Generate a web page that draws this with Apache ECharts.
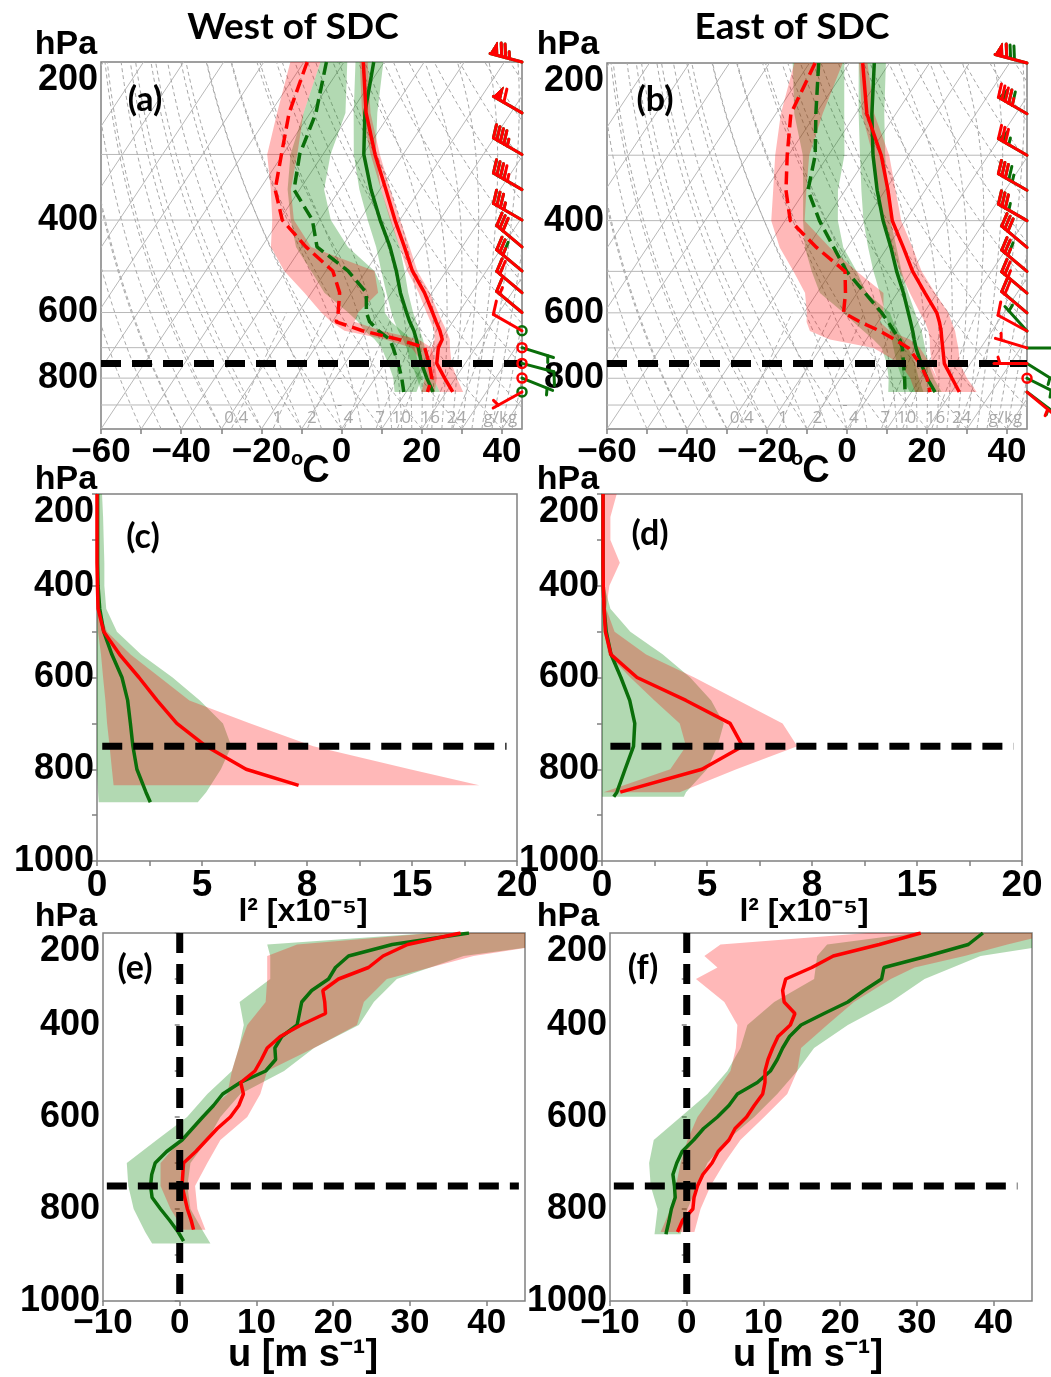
<!DOCTYPE html>
<html>
<head>
<meta charset="utf-8">
<title>West / East of SDC</title>
<script src="https://cdn.jsdelivr.net/npm/echarts@6.0.0/dist/echarts.min.js"></script>
<style>
  html, body { margin: 0; padding: 0; background: #fff; }
  #main { width: 1051px; height: 1377px; }
</style>
</head>
<body>
<div id="main"></div>
<script>
// ---------------- data ----------------
// skew-T levels (hPa); temperature / dew point in degC
var pSkew = [200, 250, 300, 350, 400, 450, 500, 550, 600, 625, 650, 675, 700, 750, 800, 850];

// (a) west of SDC
var tRedW      = [-55.2, -46.1, -37.0, -28.5, -21.2, -14.4, -8.45, -1.85, 3.45, 5.9, 8.3, 10.3, 10.7, 12.9, 17.3, 21.6];
var tRedWLo    = [-56.1, -47.1, -38.1, -29.7, -22.4, -15.6, -9.7, -3.3, 1.95, 4.5, 6.9, 8.4, 9.0, 10.8, 14.5, 18.4];
var tRedWHi    = [-54.1, -45.0, -35.8, -27.4, -19.9, -13.1, -7.2, -0.5, 4.85, 7.4, 9.95, 12.2, 13.6, 16.6, 20.35, 24.2];
var tdRedW     = [-69.2, -65.3, -60.35, -56.1, -49.3, -38.95, -28.3, -23.0, -20.1, -19.05, -11.0, -0.6, 7.3, 11.0, 14.1, 15.3];
var tdRedWLo   = [-73.4, -68.3, -63.9, -57.2, -51.8, -47.7, -40.4, -31.8, -24.3, -20.3, -15.5, -4.1, 4.0, 9.5, 12.4, 13.8];
var tdRedWHi   = [-65.9, -61.7, -56.4, -52.2, -46.4, -37.7, -17.9, -13.4, -15.1, -14.5, -6.3, 4.3, 9.0, 12.4, 15.35, 17.1];
var tGreenW    = [-52.6, -46.4, -39.8, -32.2, -24.9, -18.0, -12.45, -7.85, -3.05, -0.7, 1.8, 3.85, 5.7, 9.1, 12.85, 16.7];
var tGreenWLo  = [-57.15, -49.2, -42.3, -35.1, -28.0, -21.45, -16.2, -11.35, -6.8, -4.5, -2.1, 0.5, 2.75, 6.6, 10.35, 13.8];
var tGreenWHi  = [-50.2, -43.3, -36.85, -29.7, -22.2, -15.6, -10.4, -5.9, -1.4, 0.95, 3.3, 5.5, 7.3, 10.8, 14.5, 18.4];
var tdGreenW   = [-64.4, -58.6, -55.8, -51.4, -41.8, -36.2, -24.5, -16.35, -13.05, -10.7, -7.0, -2.8, -0.6, 3.3, 6.6, 9.4];
var tdGreenWLo = [-65.9, -61.7, -58.1, -53.0, -47.2, -41.45, -33.7, -26.8, -17.6, -13.6, -10.5, -6.6, -3.5, 0.8, 4.5, 7.1];
var tdGreenWHi = [-59.2, -51.25, -48.1, -43.9, -37.2, -28.5, -17.9, -11.8, -8.5, -5.3, -1.3, 2.6, 4.8, 8.3, 11.6, 12.55];

// (b) east of SDC
var tRedE      = [-56.7, -47.25, -36.8, -29.3, -23.2, -16.0, -9.7, -3.0, 3.2, 5.4, 7.3, 8.9, 10.5, 13.5, 17.85, 21.95];
var tRedELo    = [-57.6, -48.5, -38.9, -31.5, -25.5, -18.95, -12.9, -6.8, -1.0, 1.8, 4.1, 5.9, 7.3, 10.35, 14.1, 17.95];
var tRedEHi    = [-55.5, -45.4, -34.8, -27.4, -20.95, -13.7, -7.45, -0.5, 6.1, 8.45, 10.8, 12.6, 14.4, 17.4, 21.6, 26.3];
var tdRedE     = [-68.6, -66.25, -60.3, -54.8, -48.7, -37.7, -26.6, -22.9, -20.1, -14.3, -8.0, -2.8, 1.9, 7.4, 11.6, 14.6];
var tdRedELo   = [-73.8, -68.75, -63.3, -58.0, -53.45, -46.9, -39.5, -33.0, -29.3, -27.8, -25.5, -19.1, -6.8, 2.4, 7.4, 10.9];
var tdRedEHi   = [-61.7, -58.3, -54.8, -49.7, -45.1, -34.4, -23.7, -13.4, -10.1, -9.5, -5.5, 0.9, 4.8, 9.9, 14.1, 18.0];
var tGreenE    = [-53.8, -46.0, -38.85, -32.0, -25.5, -19.1, -13.7, -8.4, -3.9, -1.8, 0.2, 2.0, 3.8, 7.7, 11.6, 15.9];
var tGreenELo  = [-57.7, -49.3, -42.1, -35.95, -30.4, -24.8, -19.5, -14.3, -9.7, -7.6, -5.5, -3.65, -1.8, 1.6, 5.35, 9.6];
var tGreenEHi  = [-50.9, -42.9, -35.8, -29.45, -23.6, -17.7, -12.45, -7.2, -2.2, 0.1, 2.45, 4.3, 6.1, 9.5, 13.3, 17.55];
var tdGreenE   = [-67.7, -60.0, -53.3, -49.3, -41.4, -33.4, -26.2, -18.0, -10.55, -7.4, -4.5, -1.6, 0.4, 3.3, 6.0, 8.4];
var tdGreenELo = [-74.2, -65.4, -56.4, -50.5, -45.5, -40.6, -34.95, -29.3, -20.1, -16.1, -12.1, -8.2, -4.75, -0.9, 2.0, 4.2];
var tdGreenEHi = [-61.3, -52.9, -46.0, -41.8, -36.8, -31.0, -23.7, -17.6, -8.5, -6.1, -3.4, -0.7, 1.9, 6.2, 9.5, 13.0];

// (c),(d) l^2 [x1e-5]
var pLsqRedW   = [200, 250, 300, 350, 400, 450, 500, 550, 600, 650, 700, 750, 800, 835];
var lsqRedW    = [0, 0, 0, 0, 0.02, 0.05, 0.32, 1.08, 2.0, 2.86, 3.8, 5.2, 7.1, 9.6];
var lsqRedWLo  = [0, 0, 0, 0, 0, 0, 0.05, 0.19, 0.29, 0.4, 0.48, 0.6, 0.71, 0.79];
var lsqRedWHi  = [0.05, 0.05, 0.05, 0.05, 0.05, 0.08, 0.48, 1.6, 3.0, 4.4, 7.3, 10.3, 14.9, 18.2];
var pLsqGreenW = [200, 250, 300, 350, 400, 450, 500, 550, 600, 650, 700, 750, 800, 850, 872];
var lsqGreenW  = [0.03, 0.03, 0.03, 0.03, 0.05, 0.13, 0.32, 0.71, 1.19, 1.46, 1.59, 1.71, 1.9, 2.33, 2.54];
var lsqGreenWLo = [0, 0, 0, 0, 0, 0, 0, 0, 0, 0, 0, 0, 0, 0.05, 0.08];
var lsqGreenWHi = [0.24, 0.29, 0.32, 0.35, 0.35, 0.44, 0.95, 2.1, 3.6, 4.9, 6.0, 6.4, 5.9, 5.2, 4.8];

var pLsqRedE   = [200, 250, 300, 350, 400, 450, 500, 550, 600, 650, 700, 750, 800, 850];
var lsqRedE    = [0.05, 0.05, 0.05, 0.05, 0.06, 0.1, 0.16, 0.43, 1.67, 4.0, 6.1, 6.7, 4.76, 0.87];
var lsqRedELo  = [0, 0, 0, 0, 0, 0, 0.1, 0.3, 1.35, 2.5, 3.7, 4.0, 3.25, 0.08];
var lsqRedEHi  = [0.7, 0.4, 0.4, 0.85, 0.35, 0.2, 0.6, 2.1, 4.4, 6.5, 8.6, 9.3, 6.4, 3.7];
var pLsqGreenE = [200, 250, 300, 350, 400, 450, 500, 550, 600, 650, 700, 750, 800, 850, 860];
var lsqGreenE  = [0.05, 0.05, 0.05, 0.05, 0.06, 0.1, 0.2, 0.43, 0.9, 1.32, 1.56, 1.5, 1.1, 0.71, 0.56];
var lsqGreenELo = [0, 0, 0, 0, 0, 0, 0, 0, 0, 0, 0, 0, 0, 0, 0];
var lsqGreenEHi = [0.05, 0.05, 0.05, 0.05, 0.1, 0.4, 1.35, 2.9, 4.2, 5.2, 5.8, 5.5, 5.0, 4.0, 3.9];

// (e),(f) zonal wind u [m/s]
var pURedW   = [200, 225, 250, 275, 300, 325, 350, 375, 400, 425, 450, 475, 500, 525, 550, 575, 600, 625, 650, 675, 700, 725, 750, 775, 800, 825, 845];
var uRedW    = [36.6, 29.7, 26.5, 24.6, 20.7, 18.65, 18.9, 19.0, 15.8, 13.1, 11.4, 10.65, 9.8, 7.95, 8.3, 7.7, 6.6, 4.9, 3.5, 2.1, 0.5, 0.4, 0.3, 0.65, 1.0, 1.5, 1.8];
var pUGreenW = [200, 225, 250, 275, 300, 325, 350, 375, 400, 425, 450, 475, 500, 525, 550, 575, 600, 625, 650, 675, 700, 725, 750, 775, 800, 825, 850, 870];
var uGreenW  = [37.7, 27.7, 22.0, 20.3, 19.4, 17.2, 15.9, 15.6, 15.3, 13.3, 12.4, 12.5, 11.2, 7.9, 5.6, 4.4, 3.0, 1.65, 0.3, -1.7, -3.2, -3.65, -3.8, -3.6, -2.5, -1.3, -0.2, 0.5];
var pBandRedW   = [200, 225, 250, 300, 350, 400, 450, 500, 550, 600, 650, 700, 750, 800, 845];
var uRedWLo     = [33.0, 15.3, 11.4, 11.4, 11.2, 8.8, 7.7, 6.8, 6.2, 2.7, 0.1, -2.5, -2.5, -1.2, 0.5];
var uRedWHi     = [48, 48, 38.3, 27.0, 24.0, 23.1, 17.5, 11.4, 10.5, 8.8, 5.3, 3.6, 2.0, 2.3, 3.35];
var pBandGreenW = [200, 225, 250, 300, 350, 400, 450, 500, 550, 600, 650, 700, 750, 800, 850, 875];
var uGreenWLo   = [32.7, 11.4, 11.8, 11.8, 7.8, 8.35, 7.7, 6.8, 3.6, 0.96, -3.0, -6.9, -6.7, -6.0, -4.5, -3.6];
var uGreenWHi   = [48, 48, 37.0, 28.3, 25.3, 23.35, 17.5, 13.6, 7.9, 5.3, 3.6, 1.4, 1.0, 1.4, 3.1, 4.0];

var pURedE   = [200, 225, 250, 275, 300, 325, 350, 375, 400, 425, 450, 475, 500, 525, 550, 575, 600, 625, 650, 675, 700, 725, 750, 775, 800, 825, 850];
var uRedE    = [30.5, 25.1, 19.1, 16.3, 12.9, 12.5, 12.7, 14.1, 13.5, 11.9, 11.2, 10.6, 10.2, 10.2, 9.9, 8.8, 7.8, 6.3, 5.5, 4.1, 3.3, 2.1, 1.4, 0.95, 0.8, -0.55, -1.2];
var pUGreenE = [200, 225, 250, 275, 300, 325, 350, 375, 400, 425, 450, 475, 500, 525, 550, 575, 600, 625, 650, 675, 700, 725, 750, 775, 800, 825, 850, 855];
var uGreenE  = [38.6, 36.7, 31.4, 25.7, 25.4, 23.1, 21.0, 17.9, 14.9, 13.4, 12.5, 11.8, 10.9, 9.2, 6.6, 5.5, 4.0, 2.2, 0.9, -0.6, -1.3, -1.8, -1.6, -1.5, -2.0, -2.3, -2.65, -2.7];
var pBandRedE   = [200, 225, 250, 275, 300, 350, 400, 450, 500, 550, 600, 650, 700, 750, 800, 850];
var uRedELo     = [23.6, 4.4, 2.3, 4.0, 1.2, 4.9, 6.6, 6.4, 5.7, 3.6, 1.4, 0.1, -0.8, -1.4, -2.1, -3.4];
var uRedEHi     = [48, 41.8, 36.2, 29.7, 26.6, 21.8, 18.3, 14.9, 14.4, 13.1, 10.1, 7.0, 4.9, 3.1, 1.8, 1.0];
var pBandGreenE = [200, 225, 250, 300, 350, 400, 450, 500, 550, 600, 650, 700, 750, 800, 855];
var uGreenELo   = [29.7, 18.3, 17.0, 16.6, 11.4, 7.9, 7.0, 5.3, 2.7, -0.8, -4.3, -4.9, -4.7, -3.8, -4.2];
var uGreenEHi   = [48, 48, 38.3, 31.0, 26.6, 21.0, 16.6, 14.4, 11.8, 8.8, 5.3, 2.7, 1.4, 0.1, -0.8];

// wind barbs: levels and meridional wind v [m/s]; u comes from the u profiles
var pBarb   = [200, 250, 300, 350, 400, 450, 500, 550, 600, 650, 700, 750, 800, 850];
var vRedW   = [-9.8, -15.3, -12.0, -11.0, -9.2, -9.6, -8.2, -7.0, -5.5, -2, 0, 0, 0, 1];
var vGreenW = [-10, -12.7, -11.2, -9.2, -8.9, -10.4, -9.4, -4.7, -2.5, 0, 1, 1, 1, 0];
var vRedE   = [-8.2, -11, -7.5, -7.3, -7.8, -9.4, -8.6, -8.3, -6.5, -3, -1, 0, 0, 1];
var vGreenE = [-10.3, -18.1, -14.7, -12.1, -8.6, -10.5, -9.1, -5.5, -3.4, -1, 0, 1, 1, 2];

// labels
var l2TickLabels = ['0', '5', '8', '15', '20'];
var mixRatios = [0.4, 1, 2, 4, 7, 10, 16, 24];
var refLevel = 750;

// ---------------- helpers ----------------
var RED = '#ff0000', GREEN = '#0a6e0a';
var RED_FILL = 'rgba(255,0,0,0.28)', GREEN_FILL = 'rgba(0,128,0,0.30)';
var FONT = 'Liberation Sans';
var K = 105 * Math.tan(Math.PI / 6);      // skew: 30 deg over the -60..45 axis
var LN5 = Math.log(1000 / 200);
function skewX(t, p) { return t + K * Math.log(1000 / p) / LN5; }
function lnp(p) { return Math.log(p); }
function same(v) { return v; }
function minus(v) { return v < 0 ? '\u2212' + (-v) : String(v); }

function esat(tc) { return 6.112 * Math.exp(17.67 * tc / (tc + 243.5)); }
function tdFromW(w, p) { var e = w * p / (622 + w); var a = Math.log(e / 6.112); return 243.5 * a / (17.67 - a); }
function moistRate(T, p) {
  var es = esat(T - 273.15), rs = 0.622 * es / (p - es), Lv = 2.501e6, Rd = 287.04;
  return (Rd * T + Lv * rs) / (1005.7 + Lv * Lv * rs * 0.622 / (Rd * T * T)) / p;
}

// skew-T background lines
var isoLines = [], presLines = [], dryLines = [], moistLines = [], mixLines = [];
for (var t = -160; t <= 40; t += 10) isoLines.push([[t, lnp(1000)], [t + K, lnp(200)]]);
for (var pp = 300; pp <= 900; pp += 100) presLines.push([[-60, lnp(pp)], [45, lnp(pp)]]);
for (var t0 = -40; t0 < 200; t0 += 10) {
  var ln = [];
  for (var p = 1000; p >= 200; p -= 20) ln.push([skewX((t0 + 273.15) * Math.pow(p / 1000, 0.2857) - 273.15, p), lnp(p)]);
  dryLines.push(ln);
}
var moistT0 = [];
for (var a = -50; a <= 10; a += 5) moistT0.push(a);
for (var b = 12.5; b <= 45; b += 2.5) moistT0.push(b);
moistT0.forEach(function (tc) {
  var T = tc + 273.15, p = 1000, ln = [[skewX(tc, 1000), lnp(1000)]], dp = -10;
  while (p > 200) {
    var k1 = moistRate(T, p), k2 = moistRate(T + k1 * dp / 2, p + dp / 2);
    T += k2 * dp; p += dp;
    ln.push([skewX(T - 273.15, p), lnp(p)]);
  }
  moistLines.push(ln);
});
mixRatios.forEach(function (w) {
  var ln = [];
  for (var p = 1000; p >= 600; p -= 50) ln.push([skewX(tdFromW(w, p), p), lnp(p)]);
  mixLines.push(ln);
});

function linesSeries(gi, lines, style, anchor) {
  return {
    type: 'custom', xAxisIndex: gi, yAxisIndex: gi, clip: true, silent: true, z: 1,
    data: lines.map(function () { return anchor; }),
    renderItem: function (params, api) {
      var pts = lines[params.dataIndex].map(function (q) { return api.coord(q); });
      return { type: 'polyline', shape: { points: pts }, style: style };
    }
  };
}

function bandSeries(gi, p, lo, hi, color, toX, toY, anchor) {
  return {
    type: 'custom', xAxisIndex: gi, yAxisIndex: gi, clip: true, silent: true, z: 2,
    data: [anchor],
    renderItem: function (params, api) {
      var pts = [];
      for (var i = 0; i < p.length; i++) pts.push(api.coord([toX(lo[i], p[i]), toY(p[i])]));
      for (var j = p.length - 1; j >= 0; j--) pts.push(api.coord([toX(hi[j], p[j]), toY(p[j])]));
      return { type: 'polygon', shape: { points: pts }, style: { fill: color } };
    }
  };
}

function profile(gi, p, vals, color, dashed, toX, toY) {
  return {
    type: 'line', xAxisIndex: gi, yAxisIndex: gi, z: 3, symbol: 'none', silent: true,
    data: p.map(function (q, i) { return [toX(vals[i], q), toY(q)]; }),
    lineStyle: { color: color, width: 3.5, type: dashed ? [13, 6] : 'solid' }
  };
}

function refLine(gi, pts) {
  return {
    type: 'line', xAxisIndex: gi, yAxisIndex: gi, z: 4, symbol: 'none', silent: true,
    data: pts, lineStyle: { color: '#000', width: 7, type: [20, 11] }
  };
}

function valueAt(pArr, vals, p) {
  var best = 0;
  for (var i = 1; i < pArr.length; i++) if (Math.abs(pArr[i] - p) < Math.abs(pArr[best] - p)) best = i;
  return vals[best];
}

// matplotlib-style wind barb (knots), shaft points to where the wind comes from
function drawBarb(c, u, v, color) {
  var L = 33, h = 13, w = 8, sp = 4;
  var ms = Math.sqrt(u * u + v * v), kt = Math.round(ms * 1.94384 / 5) * 5;
  if (kt < 5) return { type: 'circle', shape: { cx: c[0], cy: c[1], r: 4.5 }, style: { stroke: color, lineWidth: 2.5, fill: 'none' } };
  var dx = -u / ms, dy = v / ms, nx = -dy, ny = dx;
  function pt(s, o) { return [c[0] + dx * s + nx * o, c[1] + dy * s + ny * o]; }
  var st = { stroke: color, lineWidth: 3, fill: 'none', lineCap: 'round' };
  var kids = [{ type: 'polyline', shape: { points: [c, pt(L, 0)] }, style: st }];
  var nf = Math.floor(kt / 50), rest = kt - nf * 50, nb = Math.floor(rest / 10), half = rest - nb * 10 >= 5;
  var off = L;
  for (var i = 0; i < nf; i++) {
    if (off !== L) off += sp / 2;
    kids.push({ type: 'polygon', shape: { points: [pt(off, 0), pt(off - w / 2, h), pt(off - w, 0)] }, style: { fill: color, stroke: color, lineWidth: 1 } });
    off -= w + sp;
  }
  for (i = 0; i < nb; i++) {
    kids.push({ type: 'polyline', shape: { points: [pt(off, 0), pt(off + w / 2, h)] }, style: st });
    off -= sp;
  }
  if (half) {
    if (off === L) off -= 1.5 * sp;
    kids.push({ type: 'polyline', shape: { points: [pt(off, 0), pt(off + w / 4, h / 2)] }, style: st });
  }
  return { type: 'group', children: kids };
}

function barbSeries(gi, pU, uVals, vVals, color) {
  return {
    type: 'custom', xAxisIndex: gi, yAxisIndex: gi, clip: false, silent: true, z: 5,
    data: pBarb.map(function (p, i) { return [45, lnp(p), valueAt(pU, uVals, p), vVals[i]]; }),
    renderItem: function (params, api) {
      var c = api.coord([api.value(0), api.value(1)]);
      return drawBarb(c, api.value(2), api.value(3), color);
    }
  };
}

function mixLabelSeries(gi) {
  var items = mixRatios.map(function (w) { return [skewX(tdFromW(w, 955), 955), lnp(955), String(w)]; });
  items.push([39.6, lnp(955), 'g/kg']);
  return {
    type: 'custom', xAxisIndex: gi, yAxisIndex: gi, clip: false, silent: true, z: 2,
    data: items,
    renderItem: function (params, api) {
      var c = api.coord([api.value(0), api.value(1)]);
      return { type: 'text', x: c[0], y: c[1], style: { text: items[params.dataIndex][2], fill: '#a8a8a8',
        font: '17px "Open Sans"', align: 'center', verticalAlign: 'middle', textAlign: 'center', textVerticalAlign: 'middle' } };
    }
  };
}

// ---------------- axes ----------------
var grids = [
  { left: 101, top: 62, width: 421, height: 367 },
  { left: 607, top: 63, width: 420, height: 366 },
  { left: 97, top: 494, width: 420, height: 367 },
  { left: 602, top: 494, width: 420, height: 367 },
  { left: 103, top: 933, width: 422, height: 368 },
  { left: 610, top: 933, width: 422, height: 368 }
].map(function (g) { g.show = true; g.borderColor = '#808080'; g.borderWidth = 1.5; return g; });

function labelStyle(size, extra) {
  var s = { color: '#000', fontFamily: FONT, fontWeight: 'bold', fontSize: size };
  for (var k in extra) s[k] = extra[k];
  return s;
}
var tick = { show: true, length: 5, lineStyle: { color: '#808080', width: 1.5 } };
var xAxes = [], yAxes = [];
[0, 1].forEach(function (gi) {
  xAxes.push({ type: 'value', gridIndex: gi, min: -60, max: 45, interval: 10,
    axisLine: { show: false }, splitLine: { show: false }, axisTick: tick,
    axisLabel: labelStyle(35, { margin: 6, showMaxLabel: false, formatter: function (v) { return v % 20 === 0 ? minus(v) : ''; } }) });
  yAxes.push({ type: 'value', gridIndex: gi, inverse: true, min: lnp(200), max: lnp(1000),
    axisLine: { show: false }, splitLine: { show: false },
    axisTick: { show: true, length: 4, lineStyle: { color: '#808080' }, customValues: [200, 300, 400, 500, 600, 700, 800, 900, 1000].map(lnp) },
    axisLabel: labelStyle(36, { margin: 3, verticalAlignMinLabel: 'top', customValues: [200, 400, 600, 800].map(lnp),
      formatter: function (v) { return String(Math.round(Math.exp(v))); } }) });
});
[2, 3].forEach(function (gi) {
  xAxes.push({ type: 'value', gridIndex: gi, min: 0, max: 20, interval: 2.5,
    axisLine: { show: false }, splitLine: { show: false }, axisTick: tick,
    axisLabel: labelStyle(37, { margin: 6, formatter: function (v) { return v % 5 === 0 ? l2TickLabels[v / 5] : ''; } }) });
});
[4, 5].forEach(function (gi) {
  xAxes.push({ type: 'value', gridIndex: gi, min: -10, max: 45, interval: 10,
    axisLine: { show: false }, splitLine: { show: false }, axisTick: tick,
    axisLabel: labelStyle(35, { margin: 5, showMaxLabel: false, formatter: minus }) });
});
[2, 3, 4, 5].forEach(function (gi) {
  yAxes.push({ type: 'value', gridIndex: gi, inverse: true, min: 200, max: 1000, interval: 100,
    axisLine: { show: false }, splitLine: { show: false }, axisTick: tick,
    axisLabel: labelStyle(36, { margin: 3, verticalAlignMinLabel: 'top', formatter: function (v) { return v % 200 === 0 ? String(v) : ''; } }) });
});

// ---------------- series ----------------
var series = [];
var bgSolid = { stroke: '#b8b8b8', lineWidth: 1, fill: 'none' };
var bgDash = { stroke: '#a8a8a8', lineWidth: 1, lineDash: [4, 3], fill: 'none' };
var topAnchor = [0, lnp(500)];

function skewPanel(gi, d) {
  series.push(linesSeries(gi, presLines, bgSolid, topAnchor));
  series.push(linesSeries(gi, isoLines, bgSolid, topAnchor));
  series.push(linesSeries(gi, dryLines, bgDash, topAnchor));
  series.push(linesSeries(gi, moistLines, bgDash, topAnchor));
  series.push(linesSeries(gi, mixLines, { stroke: '#b0b0b0', lineWidth: 1, lineDash: [5, 3], fill: 'none' }, topAnchor));
  series.push(mixLabelSeries(gi));
  series.push(bandSeries(gi, pSkew, d.tGLo, d.tGHi, GREEN_FILL, skewX, lnp, topAnchor));
  series.push(bandSeries(gi, pSkew, d.tdGLo, d.tdGHi, GREEN_FILL, skewX, lnp, topAnchor));
  series.push(bandSeries(gi, pSkew, d.tRLo, d.tRHi, RED_FILL, skewX, lnp, topAnchor));
  series.push(bandSeries(gi, pSkew, d.tdRLo, d.tdRHi, RED_FILL, skewX, lnp, topAnchor));
  series.push(profile(gi, pSkew, d.tG, GREEN, false, skewX, lnp));
  series.push(profile(gi, pSkew, d.tdG, GREEN, true, skewX, lnp));
  series.push(profile(gi, pSkew, d.tR, RED, false, skewX, lnp));
  series.push(profile(gi, pSkew, d.tdR, RED, true, skewX, lnp));
  series.push(refLine(gi, [[-60, lnp(refLevel)], [45, lnp(refLevel)]]));
  series.push(barbSeries(gi, d.pUG, d.uG, d.vG, GREEN));
  series.push(barbSeries(gi, d.pUR, d.uR, d.vR, RED));
}
skewPanel(0, { tR: tRedW, tRLo: tRedWLo, tRHi: tRedWHi, tdR: tdRedW, tdRLo: tdRedWLo, tdRHi: tdRedWHi,
  tG: tGreenW, tGLo: tGreenWLo, tGHi: tGreenWHi, tdG: tdGreenW, tdGLo: tdGreenWLo, tdGHi: tdGreenWHi,
  pUR: pURedW, uR: uRedW, vR: vRedW, pUG: pUGreenW, uG: uGreenW, vG: vGreenW });
skewPanel(1, { tR: tRedE, tRLo: tRedELo, tRHi: tRedEHi, tdR: tdRedE, tdRLo: tdRedELo, tdRHi: tdRedEHi,
  tG: tGreenE, tGLo: tGreenELo, tGHi: tGreenEHi, tdG: tdGreenE, tdGLo: tdGreenELo, tdGHi: tdGreenEHi,
  pUR: pURedE, uR: uRedE, vR: vRedE, pUG: pUGreenE, uG: uGreenE, vG: vGreenE });

// l^2 panels
[[2, pLsqGreenW, lsqGreenW, lsqGreenWLo, lsqGreenWHi, pLsqRedW, lsqRedW, lsqRedWLo, lsqRedWHi, [0.25, 19.5]],
 [3, pLsqGreenE, lsqGreenE, lsqGreenELo, lsqGreenEHi, pLsqRedE, lsqRedE, lsqRedELo, lsqRedEHi, [0.4, 19.6]]].forEach(function (c) {
  var gi = c[0];
  series.push(bandSeries(gi, c[1], c[3], c[4], GREEN_FILL, same, same, [5, 500]));
  series.push(bandSeries(gi, c[5], c[7], c[8], RED_FILL, same, same, [5, 500]));
  series.push(profile(gi, c[1], c[2], GREEN, false, same, same));
  series.push(profile(gi, c[5], c[6], RED, false, same, same));
  series.push(refLine(gi, [[c[9][0], refLevel], [c[9][1], refLevel]]));
});

// u panels
[[4, pBandGreenW, uGreenWLo, uGreenWHi, pBandRedW, uRedWLo, uRedWHi, pUGreenW, uGreenW, pURedW, uRedW, [-9.5, 44.2]],
 [5, pBandGreenE, uGreenELo, uGreenEHi, pBandRedE, uRedELo, uRedEHi, pUGreenE, uGreenE, pURedE, uRedE, [-9.5, 43.1]]].forEach(function (c) {
  var gi = c[0];
  series.push(bandSeries(gi, c[1], c[2], c[3], GREEN_FILL, same, same, [10, 500]));
  series.push(bandSeries(gi, c[4], c[5], c[6], RED_FILL, same, same, [10, 500]));
  series.push(profile(gi, c[7], c[8], GREEN, false, same, same));
  series.push(profile(gi, c[9], c[10], RED, false, same, same));
  series.push(refLine(gi, [[c[11][0], refLevel], [c[11][1], refLevel]]));
  series.push(refLine(gi, [[0, 200], [0, 985]]));
});

// ---------------- text ----------------
function txt(s, x, y, font) {
  var st = { text: s, font: font, fill: '#000', align: 'center', verticalAlign: 'middle', textAlign: 'center', textVerticalAlign: 'middle' };
  return { type: 'text', x: x, y: y, silent: true, z: 10, style: st };
}
var graphics = [
  txt('West of SDC', 293, 27, 'bold 37px Lato'),
  txt('East of SDC', 792, 27, 'bold 37px Lato'),
  txt('(a)', 145, 100, 'bold 34px Lato'), txt('(b)', 655, 100, 'bold 34px Lato'),
  txt('(c)', 143, 537, 'bold 34px Lato'), txt('(d)', 650, 534, 'bold 34px Lato'),
  txt('(e)', 135, 968, 'bold 34px Lato'), txt('(f)', 643, 968, 'bold 34px Lato'),
  txt('o', 297, 459, 'bold 20px "Liberation Sans"'), txt('C', 316, 472, 'bold 38px "Liberation Sans"'),
  txt('o', 797, 459, 'bold 20px "Liberation Sans"'), txt('C', 816, 472, 'bold 38px "Liberation Sans"'),
  txt('l\u00b2 [x10\u207b\u2075]', 303, 912, 'bold 32px "Liberation Sans"'),
  txt('l\u00b2 [x10\u207b\u2075]', 804, 912, 'bold 32px "Liberation Sans"'),
  txt('u [m s\u207b\u00b9]', 303, 1356, 'bold 38px "Liberation Sans"'),
  txt('u [m s\u207b\u00b9]', 808, 1356, 'bold 38px "Liberation Sans"')
];
[[66, 45], [568, 45], [66, 480], [568, 480], [66, 917], [568, 917]].forEach(function (q) {
  graphics.push(txt('hPa', q[0], q[1], 'bold 34px "Liberation Sans"'));
});

var chart = echarts.init(document.getElementById('main'));
chart.setOption({
  animation: false,
  backgroundColor: '#fff',
  grid: grids,
  xAxis: xAxes,
  yAxis: yAxes,
  series: series,
  graphic: graphics
});
</script>
</body>
</html>
